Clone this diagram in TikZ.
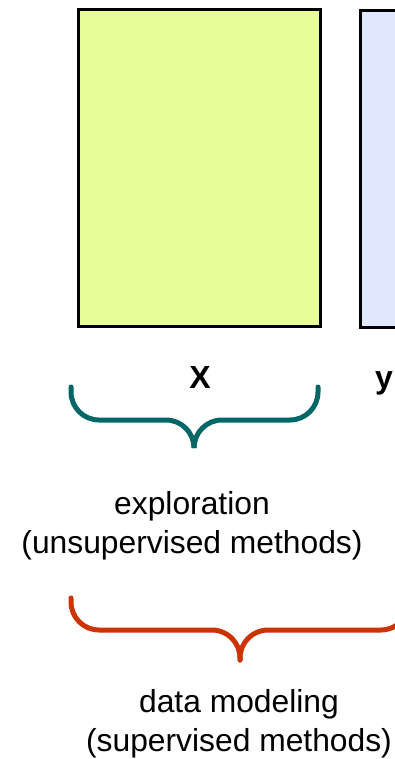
\documentclass[tikz,border=0pt]{standalone}
\usepackage{fontspec}
\setmainfont{Liberation Sans}
\usepackage{tikz}
\usetikzlibrary{positioning}
\definecolor{matgreen}{RGB}{230,255,153}
\definecolor{matblue}{RGB}{224,232,255}
\definecolor{bracet}{RGB}{0,102,102}
\definecolor{braceo}{RGB}{204,51,0}
\tikzset{
  matbox/.style={draw=black,line width=3pt,anchor=north west,inner sep=0pt},
  matlbl/.style={font=\fontsize{32}{39}\selectfont\bfseries,anchor=base,inner sep=0pt},
  brc/.style={line width=5pt,line cap=round,rounded corners=28pt},
  brclbl/.style={font=\fontsize{31.8}{39}\selectfont,align=center,anchor=base,inner sep=0pt},
}
\begin{document}
\begin{tikzpicture}[x=1pt,y=-1pt]
  \useasboundingbox (0,0) rectangle (394,759);
  \node[matbox,fill=matgreen,minimum width=242pt,minimum height=317pt] (X) at (77,8) {};
  \node[matbox,fill=matblue,minimum width=100pt,minimum height=317pt] (Y) at (359,9) {};
  \node[matlbl] (xlbl) at (200,388) {X};
  \node[matlbl] (ylbl) at (384,388) {y};
  \draw[brc,bracet] (71,387) -- (71,420) -- (194,420) -- (194,446);
  \draw[brc,bracet] (318,387) -- (318,420) -- (194,420) -- (194,446);
  \node[brclbl] (expl) at (192,553) {exploration\\(unsupervised methods)};
  \draw[brc,braceo] (71,598) -- (71,630) -- (240,630) -- (240,660);
  \draw[brc,braceo] (409,598) -- (409,630) -- (240,630) -- (240,660);
  \node[brclbl] (dmod) at (239,751) {data modeling\\(supervised methods)};
\end{tikzpicture}
\end{document}
